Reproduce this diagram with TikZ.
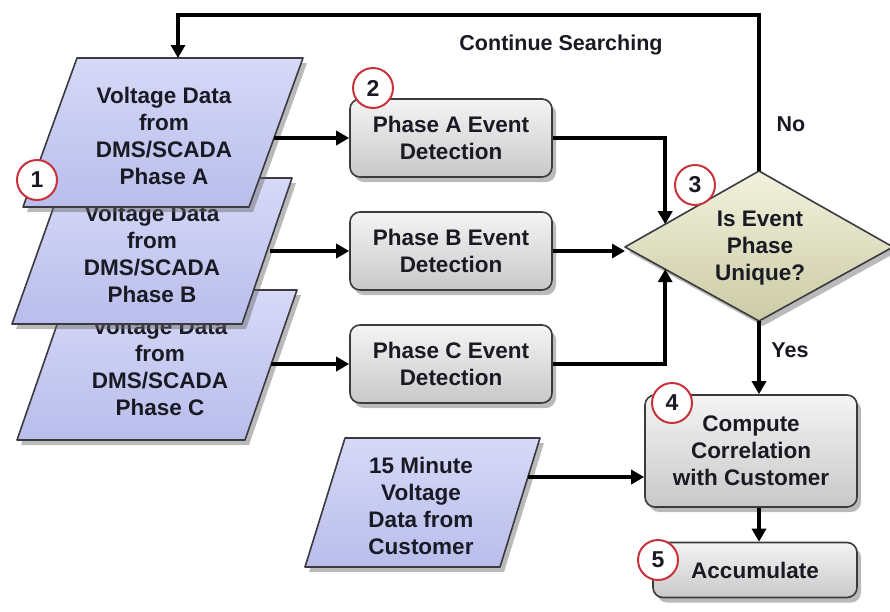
\documentclass[tikz,border=0pt]{standalone}
\usepackage{fontspec}
\setmainfont{Liberation Sans}
\usetikzlibrary{arrows.meta,shadows,calc}
\definecolor{txtcol}{HTML}{1A1A24}
\definecolor{edgecol}{HTML}{3A3A40}
\definecolor{lavtop}{HTML}{D6D9F7}
\definecolor{lavbot}{HTML}{B9BDEB}
\definecolor{graytop}{HTML}{F4F4F4}
\definecolor{graybot}{HTML}{C8C8C8}
\definecolor{olivetop}{HTML}{F2F2DE}
\definecolor{olivebot}{HTML}{CBCBA4}
\definecolor{badgered}{HTML}{C8323C}
\tikzset{
  txt/.style={font=\fontsize{22.5}{27}\selectfont\bfseries, text=txtcol, align=center},
  shad/.style={drop shadow={shadow xshift=4pt, shadow yshift=-5pt, opacity=0.45, fill=black!60}},
  databox/.style={draw=edgecol, line width=1.6pt, line join=round, top color=lavtop, bottom color=lavbot, shad},
  decbox/.style={draw=edgecol, line width=1.6pt, line join=round, top color=olivetop, bottom color=olivebot, shad},
  procbox/.style={rectangle, rounded corners=10pt, draw=edgecol, line width=1.6pt, top color=graytop, bottom color=graybot, shad, txt, inner sep=0pt},
  badge/.style={circle, draw=badgered, line width=2pt, fill=white, minimum size=40pt, inner sep=0pt, font=\fontsize{23}{23}\selectfont\bfseries, text=txtcol},
  conn/.style={line width=3.6pt, draw=black, -{Triangle[length=13pt,width=14pt]}},
  lbl/.style={font=\fontsize{21.5}{21.5}\selectfont\bfseries, text=txtcol},
}
\begin{document}
\begin{tikzpicture}[x=1pt,y=-1pt]
\useasboundingbox (0,0) rectangle (890,611);

% Phase C data (drawn first, lowest)
\path[databox] (69,290) -- (297,290) -- (245,440) -- (17,440) -- cycle;
\node[txt] (pC) at (160,367) {Voltage Data\\from\\DMS/SCADA\\Phase C};
% Phase B data
\path[databox] (64,178) -- (292,178) -- (242,324) -- (12,324) -- cycle;
\node[txt] (pB) at (152,254) {Voltage Data\\from\\DMS/SCADA\\Phase B};
% Phase A data (top)
\path[databox] (77,58) -- (303,58) -- (249,207) -- (23,207) -- cycle;
\node[txt] (pA) at (164,136) {Voltage Data\\from\\DMS/SCADA\\Phase A};
% customer data
\path[databox] (345,438) -- (540,438) -- (500,567) -- (305,567) -- cycle;
\node[txt] (pD) at (421,506) {15 Minute\\Voltage\\Data from\\Customer};

\coordinate (pAr) at (274,138);
\coordinate (pBr) at (270,251);
\coordinate (pCr) at (271,364);
\coordinate (pDr) at (528,477);
\coordinate (pAtop) at (178,58);

% event detection boxes
\node[procbox, minimum width=202pt, minimum height=78pt] (eA) at (451,138) {Phase A Event\\Detection};
\node[procbox, minimum width=202pt, minimum height=78pt] (eB) at (451,251) {Phase B Event\\Detection};
\node[procbox, minimum width=202pt, minimum height=78pt] (eC) at (451,364) {Phase C Event\\Detection};

% decision diamond
\coordinate (dW) at (625,247);
\coordinate (dN) at (759,171);
\coordinate (dE) at (893,247);
\coordinate (dS) at (759,321);
\path[decbox] (dW) -- (dN) -- (dE) -- (dS) -- cycle;
\node[txt] (dia) at (760,248) {Is Event\\Phase\\Unique?};

% compute and accumulate
\node[procbox, minimum width=212pt, minimum height=112pt] (b4) at (751,451) {Compute\\Correlation\\with Customer};
\node[procbox, minimum width=204pt, minimum height=55pt] (b5) at (755,570) {Accumulate};

% connectors
\draw[conn] (pAr) -- (pAr -| eA.west);
\draw[conn] (pBr) -- (pBr -| eB.west);
\draw[conn] (pCr) -- (pCr -| eC.west);
\draw[conn] (eA.east) -| ($(dW)!0.3!(dN)$);
\draw[conn] (eB.east) -- (eB.east -| dW);
\draw[conn] (eC.east) -| ($(dW)!0.3!(dS)$);
\coordinate (loopTL) at (178,15);
\draw[conn] (dN) |- (loopTL) -- (pAtop);
\draw[conn] (dS) -- (dS |- b4.north);
\draw[conn] (b4.south -| dS) -- (b5.north -| dS);
\draw[conn] (pDr) -- (pDr -| b4.west);

% labels
\node[lbl] (lcs) at (561,45) {Continue Searching};
\node[lbl] (lno) at (791,124) {No};
\node[lbl] (lyes) at (790,350) {Yes};

% step badges
\node[badge] (s1) at (37,180) {1};
\node[badge] (s2) at (373,88) {2};
\node[badge] (s3) at (695,185) {3};
\node[badge] (s4) at (672,403) {4};
\node[badge] (s5) at (658,560) {5};
\end{tikzpicture}
\end{document}
